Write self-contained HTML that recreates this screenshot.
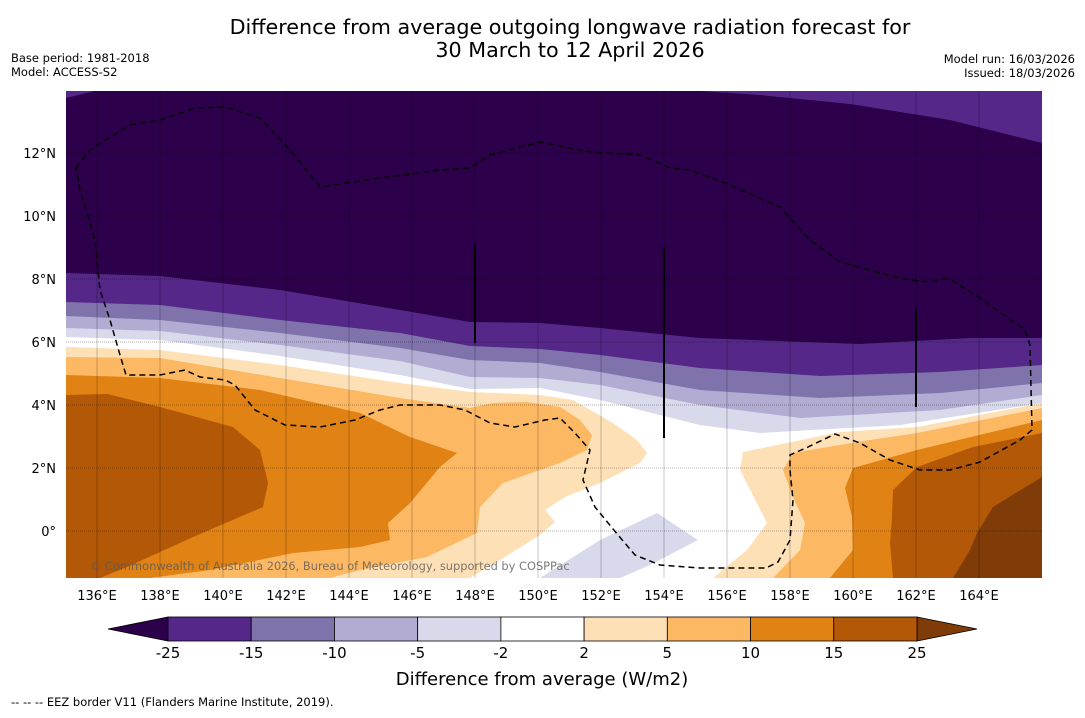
<!DOCTYPE html>
<html><head><meta charset="utf-8">
<style>
body{margin:0;background:#fff;font-family:"Liberation Sans","DejaVu Sans",sans-serif;}
svg text{font-family:"DejaVu Sans","Liberation Sans",sans-serif;}
</style></head>
<body>
<svg id="chart" width="1085" height="713" viewBox="0 0 1085 713" xmlns="http://www.w3.org/2000/svg">
<rect width="1085" height="713" fill="#fff"/>
<text x="570" y="34" font-size="20.7" text-anchor="middle" fill="#000">Difference from average outgoing longwave radiation forecast for</text>
<text x="570" y="57" font-size="20.7" text-anchor="middle" fill="#000">30 March to 12 April 2026</text>
<text x="11" y="62" font-size="11.5">Base period: 1981-2018</text>
<text x="11" y="76" font-size="11.5">Model: ACCESS-S2</text>
<text x="1075" y="63" font-size="11.5" text-anchor="end">Model run: 16/03/2026</text>
<text x="1075" y="77" font-size="11.5" text-anchor="end">Issued: 18/03/2026</text>
<defs><clipPath id="mapclip"><rect x="66" y="91" width="976" height="487"/></clipPath></defs>
<g id="map" clip-path="url(#mapclip)"></g>
<g id="axes"></g>
<g id="cbar"></g>
<text x="542" y="685" font-size="18" text-anchor="middle">Difference from average (W/m2)</text>
<text x="11" y="706" font-size="11.5">--  --  -- EEZ border V11 (Flanders Marine Institute, 2019).</text>
</svg>
<script>
const levels=[-25,-15,-10,-5,-2,2,5,10,15,25];
const colors=["#542788","#8073ac","#b2abd2","#d8daeb","#ffffff","#fee0b6","#fdb863","#e08214","#b35806"];
const underColor="#2d004b", overColor="#7f3b08";
const lonTicks=[136,138,140,142,144,146,148,150,152,154,156,158,160,162,164];
const latTicks=[0,2,4,6,8,10,12];
const NS="http://www.w3.org/2000/svg";
const X0=66,Y0=91,W=976,H=487;
const lonX=l=>65.5+(l-135)*31.5;
const latY=l=>531-l*31.5;
function mk(tag,attrs,parent){const e=document.createElementNS(NS,tag);for(const k in attrs)e.setAttribute(k,attrs[k]);parent.appendChild(e);return e;}
const map=document.getElementById('map');
function poly(pts,fill,name){const e=mk('polygon',{points:pts.map(p=>p.join(',')).join(' '),fill:fill},map);

return e;}
mk('rect',{x:X0,y:Y0,width:W,height:H,fill:'#fff'},map);
const topEdge=[[1042,80],[66,80]];
const bM2=[[66,337],[160,340],[280,356],[400,375],[470,389],[540,388],[600,400],[700,425],[760,433],[900,425],[1042,403]];
const bM5=[[66,328],[160,331],[280,345],[400,361],[470,377],[540,378],[600,385],[700,405],[800,418],[940,410],[1042,395]];
const bM10=[[66,316],[160,320],[280,333],[400,348],[470,360],[540,363],[600,372],[700,390],[820,398],[940,393],[1042,383]];
const bM15=[[66,302],[160,305],[280,320],[400,333],[470,346],[540,349],[600,355],[700,368],[820,376],[940,372],[1042,365]];
const bM25=[[66,273],[160,276],[280,290],[400,310],[470,322],[540,323],[600,328],[700,338],[860,344],[970,338],[1042,338]];
poly(bM2.concat(topEdge),colors[3],'band-minus5-minus2');
poly(bM5.concat(topEdge),colors[2],'band-minus10-minus5');
poly(bM10.concat(topEdge),colors[1],'band-minus15-minus10');
poly(bM15.concat(topEdge),colors[0],'band-minus25-minus15');
poly(bM25.concat(topEdge),underColor,'band-below-minus25');
poly([[700,91],[1042,91],[1042,143],[950,120],[850,104],[760,95]],colors[0],'patch-ne-minus25-minus15');
poly([[66,91],[95,91],[66,98]],colors[0],'patch-nw-minus25-minus15');
poly([[540,578],[600,540],[657,513],[698,540],[650,565],[620,578]],colors[3],'blob-south-minus5-minus2');
poly([[66,347],[160,350],[280,365],[400,383],[470,392],[540,395],[573,400],[613,423],[637,440],[647,453],[640,463],[600,483],[565,497],[545,510],[555,522],[540,535],[500,560],[470,578],[66,578]],colors[5],'west-2-5');
poly([[66,357],[160,358],[280,378],[400,398],[470,408],[493,403],[527,402],[560,407],[580,420],[592,435],[587,450],[560,463],[503,483],[480,507],[477,533],[427,557],[360,570],[330,578],[66,578]],colors[6],'west-5-10');
poly([[66,375],[160,378],[260,390],[360,413],[410,437],[457,453],[440,467],[410,503],[388,523],[390,540],[360,547],[293,553],[210,570],[150,578],[66,578]],colors[7],'west-10-15');
poly([[66,395],[107,394],[160,407],[233,427],[260,450],[268,483],[263,507],[193,537],[127,567],[100,578],[66,578]],colors[8],'west-15-25');
poly([[1042,403],[917,427],[840,432],[743,452],[740,470],[767,523],[747,550],[713,578],[1042,578]],colors[5],'east-2-5');
poly([[1042,408],[917,433],[857,442],[793,453],[783,470],[793,497],[805,523],[800,550],[773,578],[1042,578]],colors[6],'east-5-10');
poly([[1042,420],[917,450],[853,468],[845,488],[852,517],[853,550],[830,578],[1042,578]],colors[7],'east-10-15');
poly([[1042,433],[973,447],[917,467],[893,490],[892,517],[890,543],[893,578],[1042,578]],colors[8],'east-15-25');
poly([[1042,477],[993,507],[977,533],[970,550],[953,578],[1042,578]],overColor,'east-above-25');
lonTicks.forEach(l=>{const x=lonX(l);const g=mk('line',{x1:x,x2:x,y1:Y0,y2:Y0+H,stroke:'rgba(0,0,0,0.22)','stroke-width':1},map);

});
latTicks.forEach(l=>{const y=latY(l);const g=mk('line',{x1:X0,x2:X0+W,y1:y,y2:y,stroke:'rgba(0,0,0,0.3)','stroke-width':1,'stroke-dasharray':'1,1'},map);

});
[[475,245,343],[664,247,438],[916,309,407]].forEach(t=>{const l=mk('line',{x1:t[0],x2:t[0],y1:t[1],y2:t[2],stroke:'#000','stroke-width':2},map);

});
const eez=[[76,168],[90,150],[130,125],[160,120],[195,108],[225,107],[260,118],[290,150],[320,187],[380,178],[440,170],[470,168],[490,155],[540,142],[590,152],[640,155],[670,168],[690,170],[730,185],[780,207],[810,240],[840,262],[880,273],[910,280],[930,282],[948,278],[980,298],[1025,330],[1030,345],[1032,430],[1020,440],[980,462],[950,470],[920,470],[890,460],[860,443],[835,434],[808,447],[790,455],[790,470],[793,500],[790,540],[778,562],[766,568],[700,568],[660,565],[635,555],[618,535],[595,507],[583,480],[590,450],[575,433],[560,418],[545,420],[515,427],[490,423],[465,410],[440,405],[400,405],[380,410],[355,420],[320,427],[285,425],[255,410],[235,385],[225,380],[200,377],[185,370],[160,375],[126,375],[120,355],[110,320],[100,290],[95,240],[80,190],[76,168]];
const ez=mk('polyline',{points:eez.map(p=>p.join(',')).join(' '),fill:'none',stroke:'#000','stroke-width':1.5,'stroke-dasharray':'6,4'},map);


const cp=mk('text',{x:90,y:570,'font-size':11.4,fill:'rgba(90,90,90,0.8)'},map);cp.textContent='© Commonwealth of Australia 2026, Bureau of Meteorology, supported by COSPPac';


const ax=document.getElementById('axes');
lonTicks.forEach(l=>{const t=mk('text',{x:lonX(l),y:600,'font-size':13,'text-anchor':'middle'},ax);t.textContent=l+'°E';

});
latTicks.forEach(l=>{const t=mk('text',{x:56,y:latY(l)+5,'font-size':13,'text-anchor':'end'},ax);t.textContent=l===0?'0°':l+'°N';

});
const cb=document.getElementById('cbar');
const cx0=168,cx1=917,cy=617,ch=24,sw=(cx1-cx0)/colors.length;
const lu=mk('polygon',{points:`${cx0},${cy} ${108},${cy+ch/2} ${cx0},${cy+ch}`,fill:underColor,stroke:'#000','stroke-width':0.8},cb);


const ro=mk('polygon',{points:`${cx1},${cy} ${977},${cy+ch/2} ${cx1},${cy+ch}`,fill:overColor,stroke:'#000','stroke-width':0.8},cb);


colors.forEach((c,i)=>{const r=mk('rect',{x:cx0+i*sw,y:cy,width:sw,height:ch,fill:c,stroke:'#000','stroke-width':0.8},cb);

});
levels.forEach((v,i)=>{const t=mk('text',{x:cx0+i*sw,y:658,'font-size':15,'text-anchor':'middle'},cb);t.textContent=v;

});
</script>
</body></html>
